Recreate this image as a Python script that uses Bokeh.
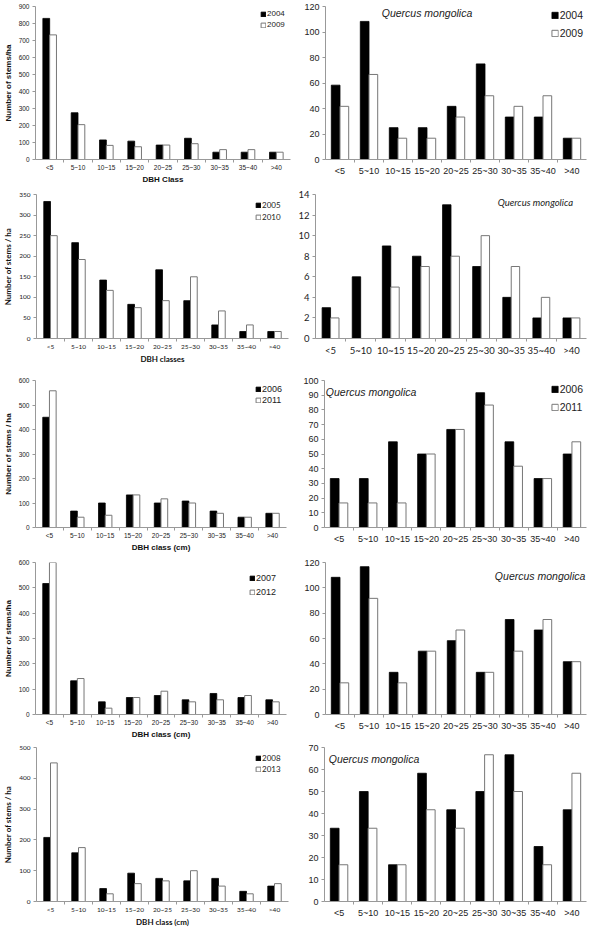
from bokeh.plotting import figure
from bokeh.layouts import column, row
from bokeh.models import (Legend, LegendItem, Label, FactorRange, Range1d, FixedTicker,
                          ColumnDataSource, CategoricalAxis)
from bokeh.transform import dodge
from bokeh.embed import file_html
from bokeh.resources import INLINE

dbh_classes = ["<5", "5~10", "10~15", "15~20", "20~25", "25~30", "30~35", "35~40", ">40"]

# All species (left column), stems/ha
all_2004 = [830, 275, 115, 108, 85, 125, 43, 43, 43]
all_2009 = [733, 205, 83, 75, 85, 93, 58, 58, 43]
all_2005 = [333, 233, 142, 83, 167, 92, 33, 17, 17]
all_2010 = [250, 192, 117, 75, 92, 150, 67, 33, 17]
all_2006 = [450, 67, 100, 133, 100, 108, 67, 42, 58]
all_2011 = [558, 42, 50, 133, 117, 100, 58, 42, 58]
all_2007 = [517, 133, 50, 67, 75, 58, 83, 67, 58]
all_2012 = [600, 142, 25, 67, 92, 50, 58, 75, 50]
all_2008 = [208, 158, 42, 92, 75, 67, 75, 33, 50]
all_2013 = [450, 175, 25, 58, 67, 100, 50, 25, 58]

# Quercus mongolica (right column)
qm_2004 = [58.3, 108.3, 25, 25, 41.7, 75, 33.3, 33.3, 16.7]
qm_2009 = [41.7, 66.7, 16.7, 16.7, 33.3, 50, 41.7, 50, 16.7]
qm_2005 = [3, 6, 9, 8, 13, 7, 4, 2, 2]
qm_2010 = [2, 0, 5, 7, 8, 10, 7, 4, 2]
qm_2006 = [33.3, 33.3, 58.3, 50, 66.7, 91.7, 58.3, 33.3, 50]
qm_2011 = [16.7, 16.7, 16.7, 50, 66.7, 83.3, 41.7, 33.3, 58.3]
qm_2007 = [108.3, 116.7, 33.3, 50, 58.3, 33.3, 75, 66.7, 41.7]
qm_2012 = [25, 91.7, 25, 50, 66.7, 33.3, 50, 75, 41.7]
qm_2008 = [33.3, 50, 16.7, 58.3, 41.7, 50, 66.7, 25, 41.7]
qm_2013 = [16.7, 33.3, 16.7, 41.7, 33.3, 66.7, 50, 16.7, 58.3]

species = "Quercus mongolica"

ARIAL = "Liberation Sans"
CALIBRI = "Lato"


def panel(a, b, years, ymax, ystep, H, t, bt, left, right, W=294, font=ARIAL,
          tick_size="6.5px", bar_w=0.24, ylabel=None, xlabel=None,
          legend=None, leg_font="8px", title=None, title_size="10.5px",
          title_font=ARIAL, xstand=1):
    n = len(dbh_classes)
    p = figure(x_range=FactorRange(*dbh_classes), y_range=Range1d(0, ymax),
               width=W, height=H, output_backend="svg", toolbar_location=None,
               min_border_left=left, min_border_right=right,
               min_border_top=t, min_border_bottom=bt, x_axis_location=None)
    # helper categorical range whose factor centres fall on category boundaries
    edge_factors = [" " * (i + 1) for i in range(n + 1)]
    p.extra_x_ranges = {"edges": FactorRange(*edge_factors, range_padding=-0.5,
                                             range_padding_units="absolute")}
    src = ColumnDataSource(dict(cls=dbh_classes, a=a, b=b))
    r1 = p.vbar(x=dodge("cls", -bar_w / 2, range=p.x_range), top="a", width=bar_w,
                source=src, fill_color="black", line_color="black", line_width=0.8)
    r2 = p.vbar(x=dodge("cls", bar_w / 2, range=p.x_range), top="b", width=bar_w,
                source=src, fill_color="white", line_color="#777777", line_width=1)
    p.xgrid.visible = False
    p.ygrid.visible = False
    p.outline_line_color = None
    p.background_fill_color = "white"
    p.border_fill_color = "white"

    # Excel-like x axis: line with tick marks between categories
    edge_axis = CategoricalAxis(x_range_name="edges",
                                axis_line_color="#999999", major_tick_line_color="#999999",
                                major_tick_out=3, major_tick_in=0, minor_tick_line_color=None,
                                minor_tick_out=0, minor_tick_in=0,
                                major_label_text_font_size="1px", major_label_text_alpha=0,
                                major_label_standoff=0, axis_label_standoff=0)
    p.add_layout(edge_axis, "below")
    cat_axis = CategoricalAxis(axis_line_color=None, major_tick_line_color=None,
                               major_tick_out=0, major_tick_in=0,
                               minor_tick_line_color=None, minor_tick_out=0, minor_tick_in=0,
                               major_label_standoff=xstand)
    p.add_layout(cat_axis, "below")

    p.yaxis.ticker = FixedTicker(ticks=list(range(0, ymax + 1, ystep)))
    for ax in (cat_axis, p.yaxis[0]):
        ax.major_label_text_font = font
        ax.major_label_text_font_size = tick_size
        ax.major_label_text_color = "#222222"
        ax.axis_label_text_font = font
        ax.axis_label_text_font_style = "bold"
        ax.axis_label_text_font_size = "8px"
        ax.axis_label_text_color = "#111111"
    p.yaxis.axis_line_color = "#999999"
    p.yaxis.minor_tick_line_color = None
    p.yaxis.major_tick_line_color = "#999999"
    p.yaxis.major_tick_out = 3
    p.yaxis.major_tick_in = 0
    p.yaxis.major_label_standoff = 3
    cat_axis.axis_label_standoff = 1
    p.yaxis.axis_label_standoff = 3
    if ylabel:
        p.yaxis.axis_label = ylabel
    if xlabel:
        cat_axis.axis_label = xlabel
    if legend:
        margin, padding, gh, lh, sp = legend
        leg = Legend(items=[LegendItem(label=years[0], renderers=[r1]),
                            LegendItem(label=years[1], renderers=[r2])],
                     location="top_right", margin=margin, padding=padding,
                     glyph_width=gh, glyph_height=gh, label_height=lh,
                     label_standoff=1, spacing=sp,
                     label_text_font=font, label_text_font_size=leg_font,
                     label_text_color="#222222",
                     border_line_color=None, background_fill_alpha=0)
        p.add_layout(leg)
    if title:
        tx, ty = title
        p.add_layout(Label(x=tx, y=ty, text=species, text_font=title_font,
                           text_font_style="italic", text_font_size=title_size,
                           text_align="center", text_baseline="middle",
                           text_color="#222222"))
    return p


RT = "9px"  # right-panel tick size
LEGL = (3, 1, 6, 9, 2)
LEGR = (3, 4, 8, 12, 6)

p1 = panel(all_2004, all_2009, ["2004", "2009"], 900, 100, 186, 5, 20, 30, 4,
           ylabel="Number of stems/ha", xlabel="DBH Class", legend=LEGL)
p2 = panel(qm_2004, qm_2009, ["2004", "2009"], 120, 20, 186, 6, 18, 31, 2,
           tick_size=RT, bar_w=0.3, legend=LEGR, leg_font="10.5px",
           title=(3.5, 115), xstand=3)

p3 = panel(all_2005, all_2010, ["2005", "2010"], 350, 50, 180, 6, 18, 30, 6,
           font=CALIBRI, ylabel="Number of stems / ha", xlabel="DBH classes", legend=(6, 1, 6, 9, 2))
p4 = panel(qm_2005, qm_2010, ["2005", "2010"], 14, 2, 180, 8, 18, 21, 2,
           font=CALIBRI, tick_size="9.5px", bar_w=0.28, title=(7.3, 13.2),
           title_size="9.5px", title_font=CALIBRI, xstand=3)

p5 = panel(all_2006, all_2011, ["2006", "2011"], 600, 100, 188, 14, 20, 30, 8,
           ylabel="Number of stems / ha", xlabel="DBH class (cm)", legend=(4, 1, 6, 10, 1), leg_font="9px")
p6 = panel(qm_2006, qm_2011, ["2006", "2011"], 100, 10, 188, 14, 20, 30, 2,
           tick_size=RT, bar_w=0.3, legend=LEGR, leg_font="10.5px",
           title=(1.6, 92.5), xstand=3)

p7 = panel(all_2007, all_2012, ["2007", "2012"], 600, 100, 187, 8, 18, 30, 8,
           ylabel="Number of stems/ha", xlabel="DBH class (cm)", legend=(10, 1, 6, 12, 2), leg_font="9px")
p8 = panel(qm_2007, qm_2012, ["2007", "2012"], 120, 20, 187, 8, 18, 31, 2,
           tick_size=RT, bar_w=0.3, title=(7.4, 109), xstand=3)

p9 = panel(all_2008, all_2013, ["2008", "2013"], 500, 100, 188, 6, 20, 30, 6,
           font=CALIBRI, ylabel="Number of stems / ha", xlabel="DBH class (cm)", legend=(6, 1, 6, 10, 1))
p10 = panel(qm_2008, qm_2013, ["2008", "2013"], 70, 10, 188, 6, 20, 30, 2,
            tick_size=RT, bar_w=0.3, title=(1.7, 65), xstand=3)

layout = column(row(p1, p2), row(p3, p4), row(p5, p6), row(p7, p8), row(p9, p10),
                spacing=0)

open("out.html", "w").write(file_html(layout, INLINE))
